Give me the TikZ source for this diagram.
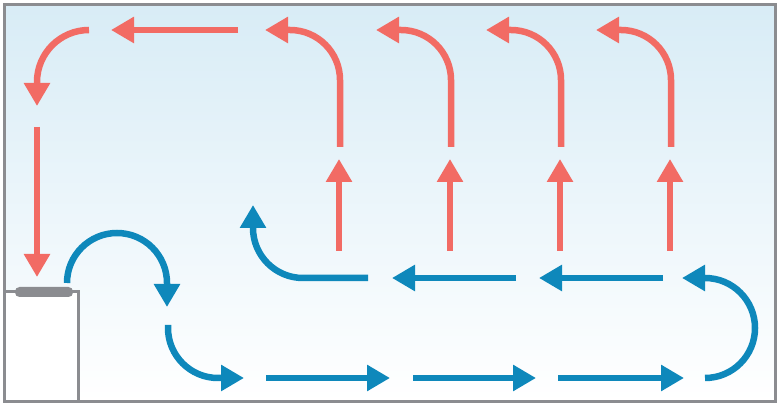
\documentclass[tikz,border=0pt]{standalone}
\usetikzlibrary{arrows.meta}

\definecolor{warmred}{HTML}{F26B64}
\definecolor{coolblue}{HTML}{0E88BB}
\definecolor{framegrey}{HTML}{8B8C90}
\definecolor{skyblue}{HTML}{D8ECF6}

\begin{document}
\begin{tikzpicture}[x=1pt, y=1pt,
    warm/.style={draw=warmred, line width=6.5pt, -{Triangle[length=23pt,width=25pt]}},
    cool/.style={draw=coolblue, line width=6.5pt, -{Triangle[length=23pt,width=25pt]}}]

    \useasboundingbox (0,0) rectangle (783,406);

    % room
    \coordinate (RoomSW) at (4.5,4.5);
    \coordinate (RoomNE) at (775.5,401.5);
    \shade[top color=skyblue, bottom color=white] (RoomSW) rectangle (RoomNE);

    % radiator
    \coordinate (RadNE) at (78,114);
    \filldraw[fill=white, draw=framegrey, line width=3pt] (RoomSW) rectangle (RadNE);
    \fill[framegrey, rounded corners=4.5pt] (15,109) rectangle (73,119);

    % warm air, top row and left side
    \coordinate (W1) at (238,376);
    \coordinate (W2) at (111,376);
    \coordinate (W3) at (89,376);
    \coordinate (L1) at (37,279);
    \coordinate (L2) at (37,129);

    \draw [warm] (W1) -- (W2);
    \draw [warm] (W3) arc[start angle=90, end angle=180, radius=52] -- ++(0,-24);
    \draw [warm] (L1) -- (L2);

    % warm air, rising columns
    \coordinate (U1) at (339,155);
    \coordinate (U2) at (450,155);
    \coordinate (U3) at (560,155);
    \coordinate (U4) at (670,155);
    \coordinate (V1) at (339,247);
    \coordinate (V2) at (450,247);
    \coordinate (V3) at (560,247);
    \coordinate (V4) at (670,247);

    \draw [warm] (U1) -- (V1);
    \draw [warm] (U2) -- (V2);
    \draw [warm] (U3) -- (V3);
    \draw [warm] (U4) -- (V4);

    \coordinate (T1) at (340,259);
    \coordinate (T2) at (451,259);
    \coordinate (T3) at (561,259);
    \coordinate (T4) at (671,259);

    \draw [warm] (T1) -- ++(0,67) arc[start angle=0, end angle=90, radius=50] -- ++(-25,0);
    \draw [warm] (T2) -- ++(0,67) arc[start angle=0, end angle=90, radius=50] -- ++(-25,0);
    \draw [warm] (T3) -- ++(0,67) arc[start angle=0, end angle=90, radius=50] -- ++(-25,0);
    \draw [warm] (T4) -- ++(0,67) arc[start angle=0, end angle=90, radius=50] -- ++(-25,0);

    % cool air, along the floor
    \coordinate (B1) at (67,123);
    \coordinate (B2) at (168,81);
    \coordinate (F1) at (266,28);
    \coordinate (F2) at (390,28);
    \coordinate (F3) at (413,28);
    \coordinate (F4) at (536,28);
    \coordinate (F5) at (558,28);
    \coordinate (F6) at (684,28);
    \coordinate (B3) at (705,28);

    \draw [cool] (B1) arc[start angle=180, end angle=0, radius=50] -- ++(0,-24);
    \draw [cool] (B2) -- ++(0,-3) arc[start angle=180, end angle=270, radius=50] -- ++(26,0);
    \draw [cool] (F1) -- (F2);
    \draw [cool] (F3) -- (F4);
    \draw [cool] (F5) -- (F6);
    \draw [cool] (B3) arc[start angle=-90, end angle=90, radius=50] -- ++(-23,0);

    % cool air, back towards the radiator
    \coordinate (M1) at (663,128);
    \coordinate (M2) at (539,128);
    \coordinate (M3) at (516,128);
    \coordinate (M4) at (392,128);
    \coordinate (B4) at (368,128);

    \draw [cool] (M1) -- (M2);
    \draw [cool] (M3) -- (M4);
    \draw [cool] (B4) -- ++(-65,0) arc[start angle=270, end angle=180, radius=50] -- ++(0,23);

    \draw [framegrey, line width=3pt] (RoomSW) rectangle (RoomNE);

\end{tikzpicture}
\end{document}
